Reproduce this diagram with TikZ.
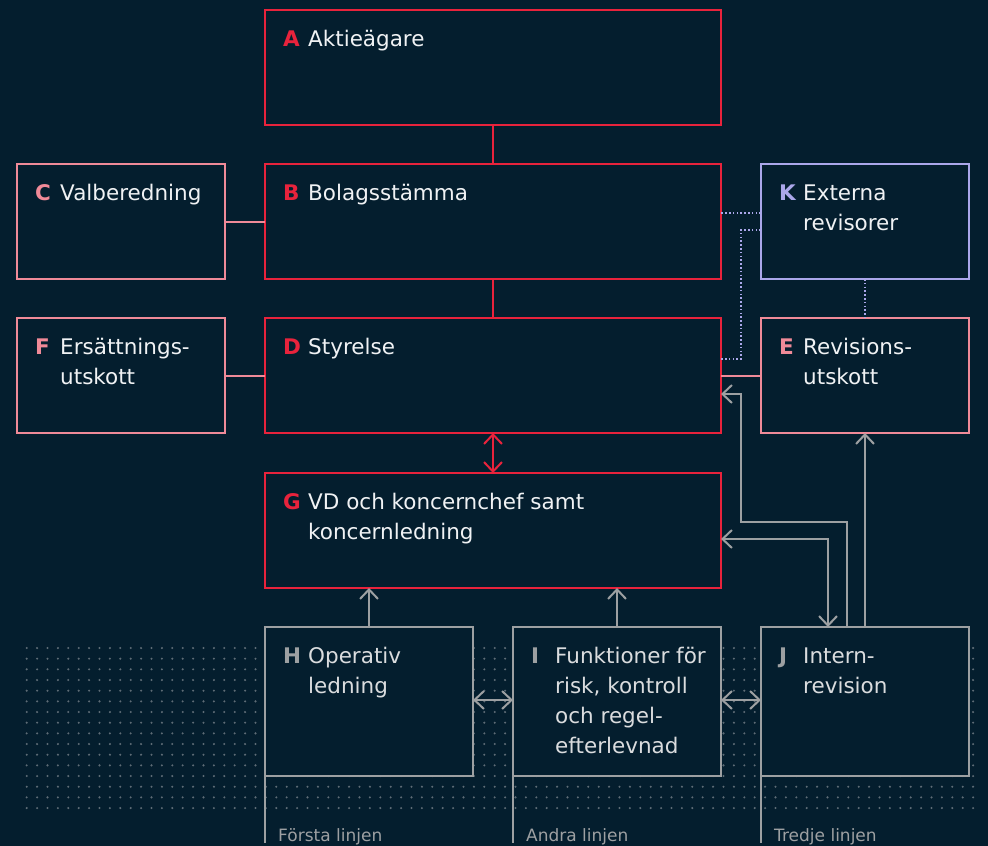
\documentclass[tikz,border=0pt]{standalone}
\usepackage{fontspec}
\setmainfont{DejaVu Sans}
\usetikzlibrary{arrows.meta,calc}
\definecolor{bg}{HTML}{041E2E}
\definecolor{cred}{HTML}{E8233C}
\definecolor{cpink}{HTML}{F08A98}
\definecolor{clav}{HTML}{ABA7EA}
\definecolor{cgray}{HTML}{9DA0A2}
\definecolor{ctext}{HTML}{F0F2F4}
\definecolor{cgtext}{HTML}{DADCDE}
\definecolor{cdot}{HTML}{5E6C76}
\newcommand{\ml}[1]{\begin{tabular}[t]{@{}l@{}}#1\end{tabular}}
\begin{document}
\begin{tikzpicture}[x=1pt,y=-1pt,
  box/.style={draw,fill=bg,line width=2pt,inner sep=0pt,outer sep=0pt,anchor=north west},
  big/.style={box,minimum width=456pt,minimum height=115pt},
  small/.style={box,minimum width=208pt,minimum height=115pt},
  low/.style={box,draw=cgray,minimum width=208pt,minimum height=149pt},
  ltr/.style={anchor=base west,inner sep=0pt,font=\fontsize{21.5}{30}\selectfont\bfseries},
  txt/.style={anchor=base west,inner sep=0pt,text=ctext,font=\fontsize{21.5}{30}\selectfont},
  gtxt/.style={txt,text=cgtext},
  foot/.style={anchor=base west,inner sep=0pt,text=cgray,font=\fontsize{17}{20}\selectfont},
  conn/.style={line width=2pt},
  tip/.tip={Straight Barb[length=9.5pt,width=18pt]},
  garr/.style={conn,draw=cgray},
  dots/.style={draw=clav,line width=1.7pt,dash pattern=on 1.6pt off 2.2pt}
]
\fill[bg] (0,0) rectangle (988,846);
\useasboundingbox (0,0) rectangle (988,846);
% dotted background
\foreach \i in {0,...,91}{
  \foreach \j in {0,...,15}{
    \fill[cdot] ({26.7+\i*10.4},{648+\j*10.67}) circle (1.15pt);
  }
}
% boxes
\node[big,draw=cred] (A) at (265,10) {};
\node[big,draw=cred] (B) at (265,164) {};
\node[small,draw=cpink] (C) at (17,164) {};
\node[small,draw=clav] (K) at (761,164) {};
\node[big,draw=cred] (D) at (265,318) {};
\node[small,draw=cpink] (F) at (17,318) {};
\node[small,draw=cpink] (E) at (761,318) {};
\node[big,draw=cred] (G) at (265,473) {};
\node[low] (H) at (265,627) {};
\node[low] (I) at (513,627) {};
\node[low] (J) at (761,627) {};
% labels
\node[ltr,text=cred] (Al) at ($(A.north west)+(18,36)$) {A};
\node[txt] (At) at ($(A.north west)+(43,36)$) {\ml{Aktieägare}};
\node[ltr,text=cred] (Bl) at ($(B.north west)+(18,36)$) {B};
\node[txt] (Bt) at ($(B.north west)+(43,36)$) {\ml{Bolagsstämma}};
\node[ltr,text=cpink] (Cl) at ($(C.north west)+(18,36)$) {C};
\node[txt] (Ct) at ($(C.north west)+(43,36)$) {\ml{Valberedning}};
\node[ltr,text=clav] (Kl) at ($(K.north west)+(18,36)$) {K};
\node[txt] (Kt) at ($(K.north west)+(42,36)$) {\ml{Externa\\revisorer}};
\node[ltr,text=cred] (Dl) at ($(D.north west)+(18,36)$) {D};
\node[txt] (Dt) at ($(D.north west)+(43,36)$) {\ml{Styrelse}};
\node[ltr,text=cpink] (Fl) at ($(F.north west)+(18,36)$) {F};
\node[txt] (Ft) at ($(F.north west)+(43,36)$) {\ml{Ersättnings-\\utskott}};
\node[ltr,text=cpink] (El) at ($(E.north west)+(18,36)$) {E};
\node[txt] (Et) at ($(E.north west)+(42,36)$) {\ml{Revisions-\\utskott}};
\node[ltr,text=cred] (Gl) at ($(G.north west)+(18,36)$) {G};
\node[txt] (Gt) at ($(G.north west)+(43,36)$) {\ml{VD och koncernchef samt\\koncernledning}};
\node[ltr,text=cgray] (Hl) at ($(H.north west)+(18,36)$) {H};
\node[gtxt] (Ht) at ($(H.north west)+(43,36)$) {\ml{Operativ\\ledning}};
\node[ltr,text=cgray] (Il) at ($(I.north west)+(18,36)$) {I};
\node[gtxt] (It) at ($(I.north west)+(42,36)$) {\ml{Funktioner för\\risk, kontroll\\och regel-\\efterlevnad}};
\node[ltr,text=cgray] (Jl) at ($(J.north west)+(18,36)$) {J};
\node[gtxt] (Jt) at ($(J.north west)+(42,36)$) {\ml{Intern-\\revision}};
% red / pink connectors
\draw[conn,draw=cred] (A.south) -- (B.north);
\draw[conn,draw=cred] (B.south) -- (D.north);
\draw[conn,draw=cred,tip-tip] (D.south) -- (G.north);
\draw[conn,draw=cpink] (C.east) -- (B.west);
\draw[conn,draw=cpink] (F.east) -- (D.west);
\draw[conn,draw=cpink] (E.west) -- (D.east);
% dotted lavender
\draw[dots] ($(K.north west)+(0,49)$) -- ($(B.north east)+(0,49)$);
\draw[dots] ($(K.north west)+(0,66)$) -| ($(D.north east)+(20,41)$) -- ($(D.north east)+(0,41)$);
\draw[dots] (K.south) -- (E.north);
% gray connectors
\draw[garr,-tip] (H.north) -- (H.north |- G.south);
\draw[garr,-tip] (I.north) -- (I.north |- G.south);
\draw[garr,-tip] (J.north) -- (E.south);
\draw[garr,-tip] ($(J.north west)+(86,0)$) |- ($(G.north east)+(20,49)$) |- ($(D.north east)+(0,76)$);
\draw[garr,tip-tip] ($(G.north east)+(0,66)$) -| ($(J.north west)+(67,0)$);
\draw[garr,tip-tip] ($(H.north east)+(0,73)$) -- ($(I.north west)+(0,73)$);
\draw[garr,tip-tip] ($(I.north east)+(0,73)$) -- ($(J.north west)+(0,73)$);
% lines of defence
\coordinate (h0) at ($(H.south west)+(0,67)$);
\coordinate (i0) at ($(I.south west)+(0,67)$);
\coordinate (j0) at ($(J.south west)+(0,67)$);
\draw[garr] (H.south west) -- (h0);
\draw[garr] (I.south west) -- (i0);
\draw[garr] (J.south west) -- (j0);
\node[foot] (Hf) at ($(H.south west)+(13,65)$) {Första linjen};
\node[foot] (If) at ($(I.south west)+(13,65)$) {Andra linjen};
\node[foot] (Jf) at ($(J.south west)+(13,65)$) {Tredje linjen};
\end{tikzpicture}
\end{document}
